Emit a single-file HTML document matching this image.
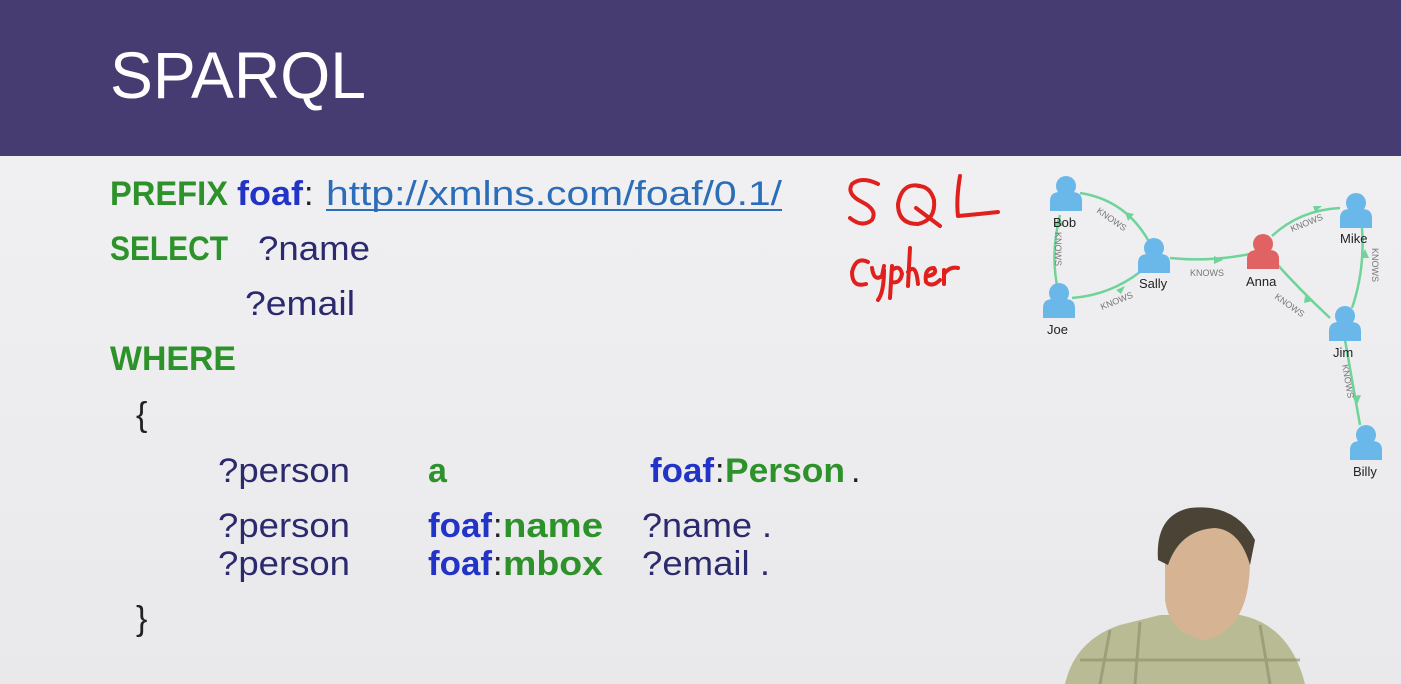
<!DOCTYPE html>
<html><head><meta charset="utf-8"><style>
html,body{margin:0;padding:0;width:1401px;height:684px;overflow:hidden;background:#f0f0f2}
svg{display:block}
</style></head><body>
<svg width="1401" height="684" viewBox="0 0 1401 684" xmlns="http://www.w3.org/2000/svg">
<defs>
<linearGradient id="bg" x1="0" y1="0" x2="0" y2="1"><stop offset="0" stop-color="#f2f2f4"/><stop offset="1" stop-color="#e9e9eb"/></linearGradient>
<marker id="ar" viewBox="0 0 10 10" refX="5" refY="5" markerWidth="5" markerHeight="5" orient="auto"><path d="M0,0 L10,5 L0,10z" fill="#6fd39a"/></marker>
<g id="p"><circle cx="0" cy="-9" r="10"/><path d="M-16,16 L-16,6 Q-16,-3 -6,-3 L6,-3 Q16,-3 16,6 L16,16 Z"/></g>
</defs>
<rect width="1401" height="684" fill="url(#bg)"/>
<rect width="1401" height="156" fill="#463c72"/>
<text x="110" y="98" font-family="Liberation Sans, sans-serif" font-size="66" fill="#fff" textLength="256" lengthAdjust="spacingAndGlyphs">SPARQL</text>

<g font-family="Liberation Sans, sans-serif" font-size="34">
<text x="110" y="205" fill="#2e922a" font-weight="bold" textLength="118" lengthAdjust="spacingAndGlyphs">PREFIX</text>
<text x="237" y="205" fill="#2233c8" font-weight="bold" textLength="66" lengthAdjust="spacingAndGlyphs">foaf</text>
<text x="304" y="205" fill="#222">:</text>
<text x="326" y="205" fill="#2b6db8" textLength="456" lengthAdjust="spacingAndGlyphs">http://xmlns.com/foaf/0.1/</text>
<rect x="326" y="209" width="456" height="2" fill="#2b6db8"/>
<text x="110" y="260" fill="#2e922a" font-weight="bold" textLength="118" lengthAdjust="spacingAndGlyphs">SELECT</text>
<text x="258" y="260" fill="#2b2a6e" textLength="112" lengthAdjust="spacingAndGlyphs">?name</text>
<text x="245" y="315" fill="#2b2a6e" textLength="110" lengthAdjust="spacingAndGlyphs">?email</text>
<text x="110" y="370" fill="#2e922a" font-weight="bold" textLength="126" lengthAdjust="spacingAndGlyphs">WHERE</text>
<text x="136" y="426" fill="#222">{</text>
<text x="218" y="482" fill="#2b2a6e" textLength="132" lengthAdjust="spacingAndGlyphs">?person</text>
<text x="428" y="482" fill="#2e922a" font-weight="bold">a</text>
<text x="650" y="482" fill="#2233c8" font-weight="bold" textLength="64" lengthAdjust="spacingAndGlyphs">foaf</text>
<text x="715" y="482" fill="#222">:</text>
<text x="725" y="482" fill="#2e922a" font-weight="bold" textLength="120" lengthAdjust="spacingAndGlyphs">Person</text>
<text x="851" y="482" fill="#222">.</text>
<text x="218" y="537" fill="#2b2a6e" textLength="132" lengthAdjust="spacingAndGlyphs">?person</text>
<text x="428" y="537" fill="#2233c8" font-weight="bold" textLength="64" lengthAdjust="spacingAndGlyphs">foaf</text>
<text x="493" y="537" fill="#222">:</text>
<text x="503" y="537" fill="#2e922a" font-weight="bold" textLength="100" lengthAdjust="spacingAndGlyphs">name</text>
<text x="642" y="537" fill="#2b2a6e" textLength="130" lengthAdjust="spacingAndGlyphs">?name .</text>
<text x="218" y="575" fill="#2b2a6e" textLength="132" lengthAdjust="spacingAndGlyphs">?person</text>
<text x="428" y="575" fill="#2233c8" font-weight="bold" textLength="64" lengthAdjust="spacingAndGlyphs">foaf</text>
<text x="493" y="575" fill="#222">:</text>
<text x="503" y="575" fill="#2e922a" font-weight="bold" textLength="100" lengthAdjust="spacingAndGlyphs">mbox</text>
<text x="642" y="575" fill="#2b2a6e" textLength="128" lengthAdjust="spacingAndGlyphs">?email .</text>
<text x="136" y="630" fill="#222">}</text>
</g>

<!-- handwriting -->
<g fill="none" stroke="#e0201c" stroke-width="4" stroke-linecap="round" stroke-linejoin="round">
<path d="M878,184 Q862,176 852,184 Q846,194 862,202 Q878,210 872,220 Q862,228 850,218"/>
<path d="M920,186 Q902,182 898,204 Q898,224 918,224 Q936,220 934,200 Q930,186 918,186 M916,208 L940,226"/>
<path d="M960,176 Q956,200 958,216 Q980,214 998,212"/>
<path d="M868,262 Q856,256 852,272 Q852,288 866,284 M872,268 Q874,282 882,276 L884,266 M884,270 Q884,292 878,300 M892,266 L890,298 M892,270 Q900,264 902,274 Q900,284 892,282 M910,248 L908,286 M908,272 Q916,262 918,284 M928,276 Q938,274 934,268 Q924,268 926,282 Q932,288 940,280 M944,270 L944,284 M944,274 Q950,266 958,268"/>
</g>

<!-- graph -->
<g fill="none" stroke="#6fd39a" stroke-width="2.5">
<path d="M1058,290 Q1050,255 1060,215" marker-mid="url(#ar)"/>
<path d="M1080,193 Q1125,200 1148,240"/>
<path d="M1072,298 Q1110,295 1140,272"/>
<path d="M1170,258 Q1210,262 1250,254"/>
<path d="M1272,236 Q1300,210 1340,208"/>
<path d="M1275,262 Q1300,290 1330,318"/>
<path d="M1352,308 Q1365,270 1362,228"/>
<path d="M1345,340 L1360,425"/>
</g>
<g fill="#6fd39a">
<path d="M1054,226 l5,-9 l5,9z"/><path d="M1125,212 l9,2 l-6,7z"/><path d="M1116,290 l9,-4 l-4,8z"/>
<path d="M1214,256 l9,4 l-9,4z"/><path d="M1313,206 l9,0 l-7,6z"/><path d="M1305,296 l8,5 l-9,2z"/>
<path d="M1361,258 l4,-9 l4,9z"/><path d="M1352,396 l5,9 l4,-10z"/>
</g>
<g fill="#6ab7ea">
<use href="#p" x="1066" y="195"/><use href="#p" x="1154" y="257"/><use href="#p" x="1059" y="302"/>
<use href="#p" x="1356" y="212"/><use href="#p" x="1345" y="325"/><use href="#p" x="1366" y="444"/>
</g>
<use href="#p" x="1263" y="253" fill="#e06262"/>
<g font-family="Liberation Sans, sans-serif" font-size="13" fill="#222">
<text x="1053" y="227">Bob</text><text x="1139" y="288">Sally</text><text x="1047" y="334">Joe</text>
<text x="1246" y="286">Anna</text><text x="1340" y="243">Mike</text><text x="1333" y="357">Jim</text><text x="1353" y="476">Billy</text>
</g>
<g font-family="Liberation Sans, sans-serif" font-size="9" fill="#777">
<text x="1190" y="276">KNOWS</text>
<text transform="translate(1096,212) rotate(35)">KNOWS</text>
<text transform="translate(1102,310) rotate(-22)">KNOWS</text>
<text transform="translate(1055,232) rotate(90)">KNOWS</text>
<text transform="translate(1292,232) rotate(-22)">KNOWS</text>
<text transform="translate(1274,298) rotate(35)">KNOWS</text>
<text transform="translate(1372,248) rotate(90)">KNOWS</text>
<text transform="translate(1342,365) rotate(80)">KNOWS</text>
</g>

<!-- person -->
<path d="M1065,684 Q1075,640 1120,625 L1160,615 L1240,615 Q1290,625 1305,684 Z" fill="#b9bb94"/>
<g stroke="#8a8f6a" stroke-width="3" opacity="0.6">
<line x1="1110" y1="630" x2="1100" y2="684"/><line x1="1140" y1="622" x2="1135" y2="684"/><line x1="1260" y1="625" x2="1270" y2="684"/><line x1="1080" y1="660" x2="1300" y2="660"/>
</g>
<path d="M1165,560 Q1160,520 1185,512 Q1215,505 1245,525 L1250,560 Q1250,630 1205,640 Q1170,635 1165,600 Z" fill="#d6b393"/>
<path d="M1158,560 Q1155,515 1190,508 Q1235,503 1255,540 L1250,565 Q1240,530 1215,528 Q1180,530 1168,565 Z" fill="#4b4436"/>
</svg>
</body></html>
